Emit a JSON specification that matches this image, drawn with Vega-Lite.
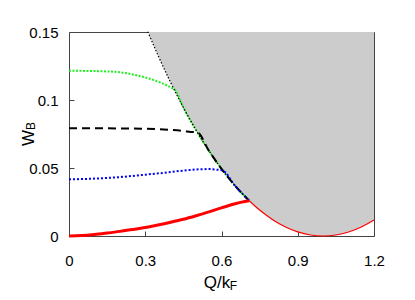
{
  "$schema": "https://vega.github.io/schema/vega-lite/v6.json",
  "width": 305,
  "height": 204,
  "autosize": "none",
  "padding": {"left": 69, "top": 32, "right": 41, "bottom": 64},
  "config": {
    "view": {"stroke": "#444444", "strokeWidth": 1},
    "axis": {
      "domain": false,
      "grid": false,
      "tickSize": -5,
      "tickColor": "#444444",
      "labelFlush": false,
      "labelFont": "Liberation Sans",
      "labelFontSize": 15,
      "labelColor": "#000000",
      "titleFont": "Liberation Sans",
      "titleFontSize": 17,
      "titleFontWeight": "normal",
      "titleColor": "#000000"
    }
  },
  "datasets": {
    "curves": [
      {"s": "bd", "Q": 0.31, "W": 0.15022},
      {"s": "bd", "Q": 0.35, "W": 0.13293},
      {"s": "bd", "Q": 0.40, "W": 0.11286},
      {"s": "bd", "Q": 0.45, "W": 0.09449},
      {"s": "bd", "Q": 0.50, "W": 0.07781},
      {"s": "bd", "Q": 0.55, "W": 0.0628},
      {"s": "bd", "Q": 0.60, "W": 0.04944},
      {"s": "bd", "Q": 0.65, "W": 0.03771},
      {"s": "bd", "Q": 0.708, "W": 0.02614},
      {"s": "br", "Q": 0.708, "W": 0.02614},
      {"s": "br", "Q": 0.75, "W": 0.0191},
      {"s": "br", "Q": 0.80, "W": 0.01218},
      {"s": "br", "Q": 0.85, "W": 0.00683},
      {"s": "br", "Q": 0.90, "W": 0.00302},
      {"s": "br", "Q": 0.95, "W": 0.000753},
      {"s": "br", "Q": 1.00, "W": 0},
      {"s": "br", "Q": 1.05, "W": 0.000747},
      {"s": "br", "Q": 1.10, "W": 0.00298},
      {"s": "br", "Q": 1.15, "W": 0.00667},
      {"s": "br", "Q": 1.20, "W": 0.01182},
      {"s": "g", "Q": 0.0, "W": 0.1215},
      {"s": "g", "Q": 0.1, "W": 0.1213},
      {"s": "g", "Q": 0.15, "W": 0.121},
      {"s": "g", "Q": 0.2, "W": 0.1204},
      {"s": "g", "Q": 0.25, "W": 0.1188},
      {"s": "g", "Q": 0.3, "W": 0.1166},
      {"s": "g", "Q": 0.35, "W": 0.1135},
      {"s": "g", "Q": 0.4, "W": 0.1093},
      {"s": "g", "Q": 0.42, "W": 0.1068},
      {"s": "g", "Q": 0.45, "W": 0.0945},
      {"s": "g", "Q": 0.5, "W": 0.0778},
      {"s": "g", "Q": 0.55, "W": 0.0628},
      {"s": "g", "Q": 0.6, "W": 0.0494},
      {"s": "g", "Q": 0.65, "W": 0.0377},
      {"s": "g", "Q": 0.708, "W": 0.0261},
      {"s": "k", "Q": 0.0, "W": 0.0792},
      {"s": "k", "Q": 0.1, "W": 0.0792},
      {"s": "k", "Q": 0.2, "W": 0.0791},
      {"s": "k", "Q": 0.3, "W": 0.0789},
      {"s": "k", "Q": 0.35, "W": 0.0786},
      {"s": "k", "Q": 0.4, "W": 0.078},
      {"s": "k", "Q": 0.45, "W": 0.0772},
      {"s": "k", "Q": 0.48, "W": 0.0765},
      {"s": "k", "Q": 0.505, "W": 0.0762},
      {"s": "k", "Q": 0.55, "W": 0.0628},
      {"s": "k", "Q": 0.6, "W": 0.0494},
      {"s": "k", "Q": 0.65, "W": 0.0377},
      {"s": "k", "Q": 0.708, "W": 0.0261},
      {"s": "b", "Q": 0.0, "W": 0.0417},
      {"s": "b", "Q": 0.1, "W": 0.0422},
      {"s": "b", "Q": 0.2, "W": 0.0433},
      {"s": "b", "Q": 0.3, "W": 0.0451},
      {"s": "b", "Q": 0.4, "W": 0.047},
      {"s": "b", "Q": 0.45, "W": 0.0481},
      {"s": "b", "Q": 0.5, "W": 0.0489},
      {"s": "b", "Q": 0.55, "W": 0.0492},
      {"s": "b", "Q": 0.58, "W": 0.0488},
      {"s": "b", "Q": 0.606, "W": 0.048},
      {"s": "b", "Q": 0.65, "W": 0.0377},
      {"s": "b", "Q": 0.708, "W": 0.0261},
      {"s": "r", "Q": 0.0, "W": 0.0},
      {"s": "r", "Q": 0.05, "W": 0.0003},
      {"s": "r", "Q": 0.1, "W": 0.0011},
      {"s": "r", "Q": 0.15, "W": 0.0022},
      {"s": "r", "Q": 0.2, "W": 0.0034},
      {"s": "r", "Q": 0.25, "W": 0.0048},
      {"s": "r", "Q": 0.3, "W": 0.0063},
      {"s": "r", "Q": 0.35, "W": 0.0081},
      {"s": "r", "Q": 0.4, "W": 0.0101},
      {"s": "r", "Q": 0.45, "W": 0.0123},
      {"s": "r", "Q": 0.5, "W": 0.0149},
      {"s": "r", "Q": 0.55, "W": 0.0177},
      {"s": "r", "Q": 0.6, "W": 0.0207},
      {"s": "r", "Q": 0.65, "W": 0.0235},
      {"s": "r", "Q": 0.68, "W": 0.0249},
      {"s": "r", "Q": 0.708, "W": 0.0259}
    ],
    "subs": [
      {"t": "B", "Q": -0.1495, "W": 0.0809, "o": "v"},
      {"t": "F", "Q": 0.647, "W": -0.0368, "o": "h"}
    ]
  },
  "layer": [
    {
      "data": {"name": "curves"},
      "transform": [{"filter": "datum.s === 'bd' || datum.s === 'br'"}],
      "mark": {"type": "area", "color": "#cccccc", "interpolate": "monotone", "clip": true},
      "encoding": {
        "x": {
          "field": "Q", "type": "quantitative",
          "scale": {"domain": [0, 1.2], "nice": false, "zero": false},
          "axis": {"values": [0, 0.3, 0.6, 0.9, 1.2], "format": ".2~g", "title": "Q/k", "labelPadding": 22, "titleX": 147.5, "titleY": 51, "titleBaseline": "alphabetic", "titleAnchor": "middle"}
        },
        "y": {
          "field": "W", "type": "quantitative",
          "scale": {"domain": [0, 0.15], "nice": false},
          "axis": {"values": [0, 0.05, 0.1, 0.15], "format": ".3~g", "title": "W", "labelPadding": 16, "titleX": -41, "titleY": 105.5, "titleBaseline": "middle", "titleAnchor": "middle"}
        },
        "y2": {"datum": 0.15}
      }
    },
    {
      "data": {"name": "curves"},
      "transform": [{"filter": "datum.s === 'br'"}],
      "mark": {"type": "line", "color": "#ff0000", "strokeWidth": 1.2, "interpolate": "monotone"},
      "encoding": {"x": {"field": "Q", "type": "quantitative"}, "y": {"field": "W", "type": "quantitative"}}
    },
    {
      "data": {"name": "curves"},
      "transform": [{"filter": "datum.s === 'g'"}],
      "mark": {"type": "line", "color": "#22ee22", "strokeWidth": 2, "strokeDash": [2, 1.5], "interpolate": "monotone"},
      "encoding": {"x": {"field": "Q", "type": "quantitative"}, "y": {"field": "W", "type": "quantitative"}}
    },
    {
      "data": {"name": "curves"},
      "transform": [{"filter": "datum.s === 'k'"}],
      "mark": {"type": "line", "color": "#000000", "strokeWidth": 2, "strokeDash": [8, 5], "interpolate": "monotone"},
      "encoding": {"x": {"field": "Q", "type": "quantitative"}, "y": {"field": "W", "type": "quantitative"}}
    },
    {
      "data": {"name": "curves"},
      "transform": [{"filter": "datum.s === 'b'"}],
      "mark": {"type": "line", "color": "#0000ff", "strokeWidth": 2, "strokeDash": [2, 2], "interpolate": "monotone"},
      "encoding": {"x": {"field": "Q", "type": "quantitative"}, "y": {"field": "W", "type": "quantitative"}}
    },
    {
      "data": {"name": "curves"},
      "transform": [{"filter": "datum.s === 'bd'"}],
      "mark": {"type": "line", "color": "#000000", "strokeWidth": 1.2, "strokeDash": [1.5, 1.8], "interpolate": "monotone"},
      "encoding": {"x": {"field": "Q", "type": "quantitative"}, "y": {"field": "W", "type": "quantitative"}}
    },
    {
      "data": {"name": "curves"},
      "transform": [{"filter": "datum.s === 'r'"}],
      "mark": {"type": "line", "color": "#ff0000", "strokeWidth": 3, "interpolate": "monotone"},
      "encoding": {"x": {"field": "Q", "type": "quantitative"}, "y": {"field": "W", "type": "quantitative"}}
    },
    {
      "data": {"name": "subs"},
      "transform": [{"filter": "datum.o === 'v'"}],
      "mark": {"type": "text", "angle": 270, "align": "center", "baseline": "middle", "fontSize": 12, "font": "Liberation Sans", "clip": false, "color": "#000000"},
      "encoding": {"text": {"field": "t"}, "x": {"field": "Q", "type": "quantitative"}, "y": {"field": "W", "type": "quantitative"}}
    },
    {
      "data": {"name": "subs"},
      "transform": [{"filter": "datum.o === 'h'"}],
      "mark": {"type": "text", "align": "center", "baseline": "middle", "fontSize": 12, "font": "Liberation Sans", "clip": false, "color": "#000000"},
      "encoding": {"text": {"field": "t"}, "x": {"field": "Q", "type": "quantitative"}, "y": {"field": "W", "type": "quantitative"}}
    }
  ]
}
